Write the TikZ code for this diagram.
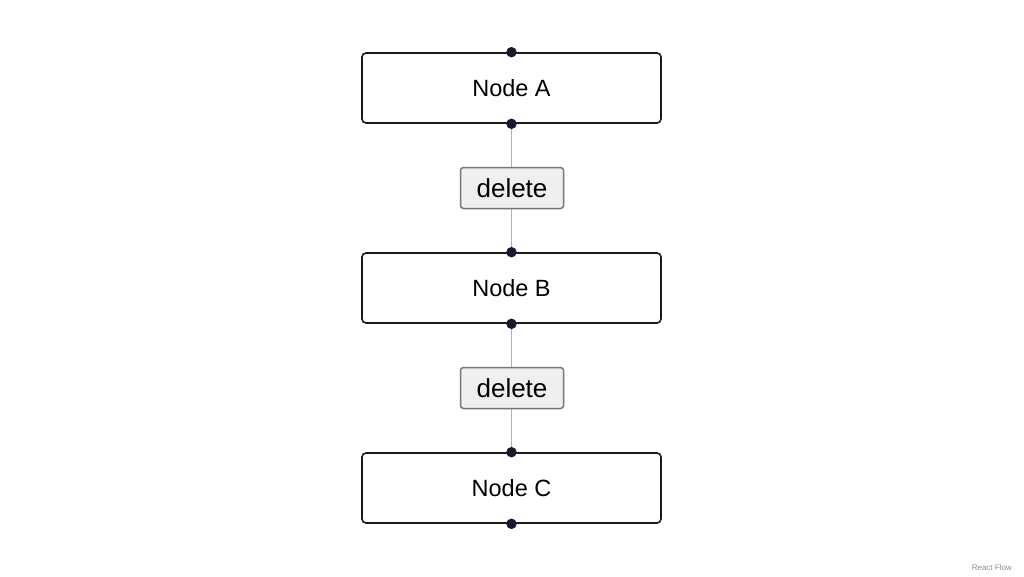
\documentclass[tikz,border=0pt]{standalone}
\usepackage{fontspec}
\setmainfont{Liberation Sans}
\usepackage{xcolor}

\definecolor{handlecol}{HTML}{1A192B}
\definecolor{edgecol}{HTML}{B1B1B7}
\definecolor{btnfill}{HTML}{EFEFEF}
\definecolor{btnline}{HTML}{767676}

\tikzset{
    flownode/.style={draw=black!90, line width=1.6pt, rounded corners=4pt, fill=white,
        minimum width=299pt, minimum height=70pt, inner sep=0pt,
        font=\fontsize{23.5}{28}\selectfont},
    handle/.style={circle, fill=handlecol, inner sep=0pt, minimum size=10.5pt},
    flowedge/.style={draw=edgecol, line width=1.6pt},
    delbtn/.style={draw=btnline, line width=1.5pt, rounded corners=3pt, fill=btnfill,
        minimum width=103pt, minimum height=41pt, inner sep=0pt,
        font=\fontsize{26}{30}\selectfont},
}

\begin{document}
\begin{tikzpicture}[x=1pt, y=-1pt]
    \useasboundingbox[fill=white] (0, 0) rectangle (1024, 576);

    \foreach \n/\y in {A/88, B/288, C/488} {
        \node[flownode] (node\n) at (511.5, \y) {Node \n};
    }

    \draw[flowedge] (nodeA.south) -- (nodeB.north);
    \draw[flowedge] (nodeB.south) -- (nodeC.north);

    \node[delbtn] (delAB) at (512, 188) {delete};
    \node[delbtn] (delBC) at (512, 388) {delete};

    \foreach \n in {A, B, C} {
        \node[handle] (top\n) at (node\n.north) {};
        \node[handle] (bot\n) at (node\n.south) {};
    }

    \node[text=black!45, font=\fontsize{8}{10}\selectfont, anchor=east, inner sep=0pt] (credit) at (1012, 568) {React Flow};
\end{tikzpicture}
\end{document}
